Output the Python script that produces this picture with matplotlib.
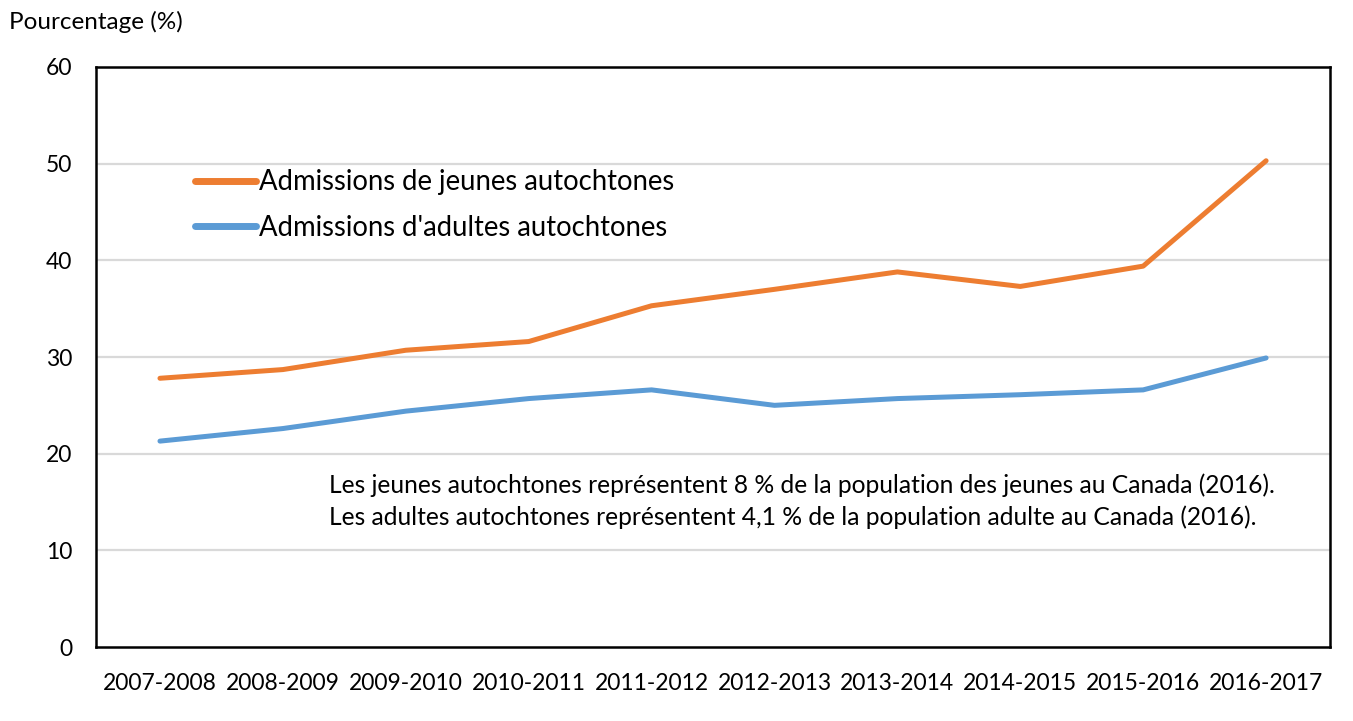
import matplotlib.pyplot as plt

years = ['2007-2008', '2008-2009', '2009-2010', '2010-2011', '2011-2012',
         '2012-2013', '2013-2014', '2014-2015', '2015-2016', '2016-2017']
youth = [27.8, 28.7, 30.7, 31.6, 35.3, 37.0, 38.8, 37.3, 39.4, 50.3]
adults = [21.3, 22.6, 24.4, 25.7, 26.6, 25.0, 25.7, 26.1, 26.6, 29.9]

youth_label = 'Admissions de jeunes autochtones'
adult_label = "Admissions d'adultes autochtones"
note = ('Les jeunes autochtones représentent 8 % de la population des jeunes au Canada (2016).\n'
        'Les adultes autochtones représentent 4,1 % de la population adulte au Canada (2016).')

plt.rcParams['font.family'] = ['Lato', 'DejaVu Sans']

fig = plt.figure(figsize=(13.53, 7.21), dpi=100)
ax = fig.add_axes([0.071, 0.1026, 0.912, 0.8045])

x = range(len(years))
ax.plot(x, youth, color='#ED7D31', linewidth=3.6, label=youth_label, solid_capstyle='round')
ax.plot(x, adults, color='#5B9BD5', linewidth=3.6, label=adult_label, solid_capstyle='round')

ax.set_xlim(-0.52, 9.52)
ax.set_ylim(0, 60)
ax.set_yticks(range(0, 61, 10))
ax.set_xticks(list(x))
ax.set_xticklabels(years)
ax.tick_params(length=0, labelsize=16.5, colors='black')
ax.tick_params(axis='x', pad=19)
ax.tick_params(axis='y', pad=17)

# light horizontal gridlines
for v in range(10, 60, 10):
    ax.axhline(v, color='#d9d9d9', linewidth=1.6, zorder=0)

for s in ax.spines.values():
    s.set_linewidth(1.8)
    s.set_color('black')

fig.text(0.007, 0.969, 'Pourcentage (%)', fontsize=17.5, ha='left', va='center')

leg = ax.legend(loc='center left', bbox_to_anchor=(0.060, 0.762), frameon=False,
                fontsize=19.8, handlelength=2.23, handletextpad=0.1, labelspacing=0.72)
for h in leg.get_lines():
    h.set_linewidth(5)

ax.text(0.189, 0.252, note, transform=ax.transAxes, fontsize=17.7,
        ha='left', va='center', linespacing=1.42)

fig.savefig('out.png', dpi=100)
